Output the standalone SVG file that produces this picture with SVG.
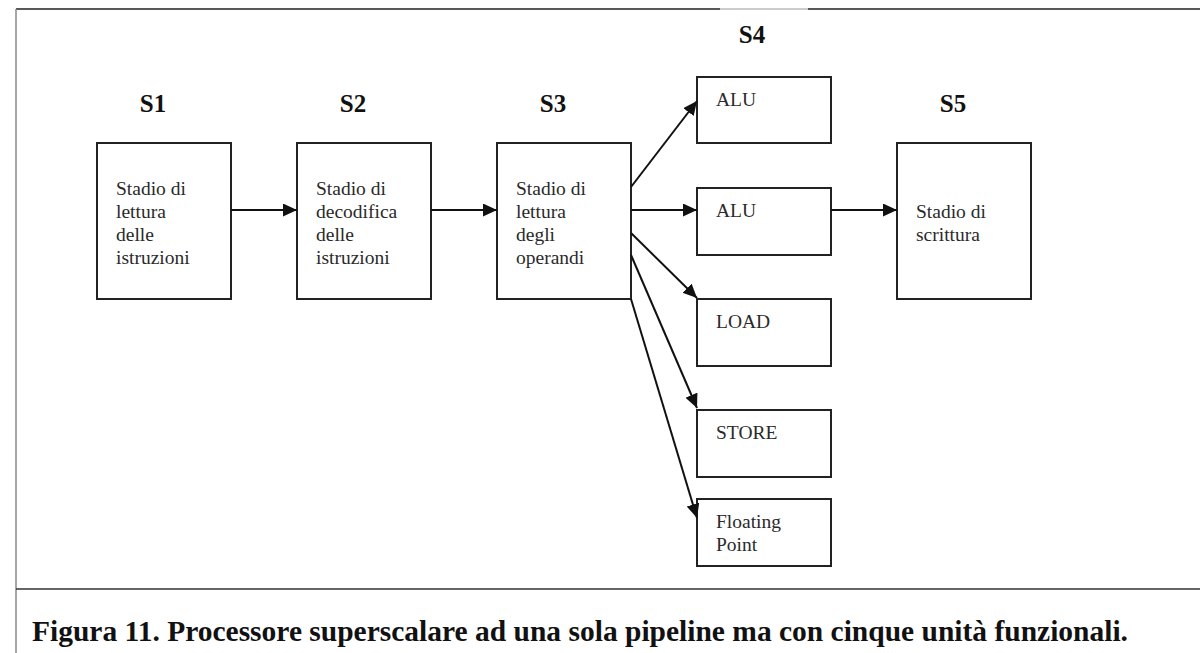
<svg xmlns="http://www.w3.org/2000/svg" width="1200" height="653" viewBox="0 0 1200 653">
  <style>
    .box { fill: #ffffff; stroke: #222222; stroke-width: 2; }
    .stage { font-family: "Liberation Serif", "Times New Roman", serif; font-weight: bold; font-size: 25px; fill: #111111; text-anchor: middle; }
    .txt { font-family: "Liberation Serif", "Times New Roman", serif; font-size: 19.5px; fill: #2a2a2a; }
    .edge { stroke: #111111; stroke-width: 2; fill: none; marker-end: url(#arrow); }
    .frame { stroke-width: 1.5; fill: none; }
    .caption { font-family: "Liberation Serif", "Times New Roman", serif; font-weight: bold; font-size: 29px; fill: #111111; }
  </style>
  <defs>
    <marker id="arrow" markerUnits="userSpaceOnUse" markerWidth="16" markerHeight="14" refX="14" refY="6.5" orient="auto">
      <path d="M0,0 L14,6.5 L0,13 Z" fill="#111111"/>
    </marker>
  </defs>

  <rect width="1200" height="653" fill="#ffffff"/>

  <!-- outer frame -->
  <g id="frame">
    <line class="frame" x1="16" y1="9" x2="720" y2="9" stroke="#222222"/>
    <line x1="720" y1="9" x2="808" y2="9" stroke="#bbbbbb" stroke-width="1.5"/>
    <line class="frame" x1="808" y1="9" x2="1200" y2="9" stroke="#222222"/>
    <line class="frame" x1="16" y1="9" x2="16" y2="653" stroke="#888888"/>
    <line class="frame" x1="16" y1="589" x2="1200" y2="589" stroke="#333333"/>
  </g>

  <!-- stage headings -->
  <g id="headings">
    <text class="stage" x="153" y="112">S1</text>
    <text class="stage" x="353" y="112">S2</text>
    <text class="stage" x="553" y="112">S3</text>
    <text class="stage" x="752" y="43">S4</text>
    <text class="stage" x="953" y="112">S5</text>
  </g>

  <g id="s1">
    <rect class="box" x="97" y="143" width="134" height="156"/>
    <text class="txt" x="116" y="195">Stadio di</text>
    <text class="txt" x="116" y="218">lettura</text>
    <text class="txt" x="116" y="241">delle</text>
    <text class="txt" x="116" y="264">istruzioni</text>
  </g>

  <g id="s2">
    <rect class="box" x="297" y="143" width="134" height="156"/>
    <text class="txt" x="316" y="195">Stadio di</text>
    <text class="txt" x="316" y="218">decodifica</text>
    <text class="txt" x="316" y="241">delle</text>
    <text class="txt" x="316" y="264">istruzioni</text>
  </g>

  <g id="s3">
    <rect class="box" x="497" y="143" width="134" height="156"/>
    <text class="txt" x="516" y="195">Stadio di</text>
    <text class="txt" x="516" y="218">lettura</text>
    <text class="txt" x="516" y="241">degli</text>
    <text class="txt" x="516" y="264">operandi</text>
  </g>

  <g id="alu1">
    <rect class="box" x="697" y="77" width="134" height="66"/>
    <text class="txt" x="716" y="106">ALU</text>
  </g>

  <g id="alu2">
    <rect class="box" x="697" y="188" width="134" height="67"/>
    <text class="txt" x="716" y="217">ALU</text>
  </g>

  <g id="load">
    <rect class="box" x="697" y="299" width="134" height="67"/>
    <text class="txt" x="716" y="328">LOAD</text>
  </g>

  <g id="store">
    <rect class="box" x="697" y="410" width="134" height="67"/>
    <text class="txt" x="716" y="439">STORE</text>
  </g>

  <g id="fp">
    <rect class="box" x="697" y="499" width="134" height="67"/>
    <text class="txt" x="716" y="528">Floating</text>
    <text class="txt" x="716" y="551">Point</text>
  </g>

  <g id="s5">
    <rect class="box" x="897" y="143" width="134" height="156"/>
    <text class="txt" x="916" y="218">Stadio di</text>
    <text class="txt" x="916" y="241">scrittura</text>
  </g>

  <!-- connectors -->
  <g id="connectors">
    <line class="edge" x1="231" y1="210" x2="297" y2="210"/>
    <line class="edge" x1="431" y1="210" x2="497" y2="210"/>
    <line class="edge" x1="631" y1="210" x2="697" y2="210"/>
    <line class="edge" x1="831" y1="210" x2="897" y2="210"/>
    <line class="edge" x1="631" y1="187" x2="697" y2="101"/>
    <line class="edge" x1="631" y1="233" x2="697" y2="298"/>
    <line class="edge" x1="631" y1="255" x2="697" y2="408"/>
    <line class="edge" x1="631" y1="299" x2="697" y2="518"/>
  </g>

  <g id="caption">
    <text class="caption" x="32" y="641" textLength="1096" lengthAdjust="spacingAndGlyphs">Figura 11. Processore superscalare ad una sola pipeline ma con cinque unità funzionali.</text>
  </g>
</svg>
